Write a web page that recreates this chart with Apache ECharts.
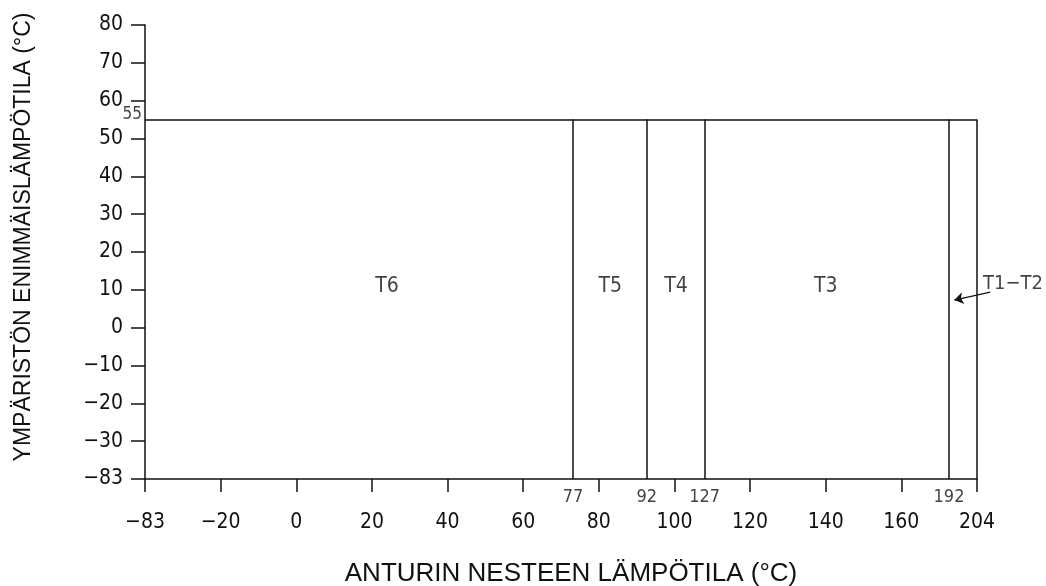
<!DOCTYPE html>
<html>
<head>
<meta charset="utf-8">
<script src="https://cdn.jsdelivr.net/npm/echarts@6/dist/echarts.min.js"></script>
<style>
  html, body { margin: 0; padding: 0; background: #fff; }
  #chart { width: 1046px; height: 586px; }
</style>
</head>
<body>
<div id="chart"></div>
<script>
// axis end labels (the drawing squeezes the ends of both scales)
const xEndLabels = { '-40': '-83', '180': '204' }
const yEndLabels = { '-40': '-83' }

// temperature class zone: boundaries as drawn on the x scale, with their labels
const zoneTop = 55
const zoneBottom = -40
const boundaryPos = [73.2, 92.7, 108, 172.6, 180]
const boundaryLabels = ['77', '92', '127', '192', '']

// class names and where they sit
const classNames = ['T6', 'T5', 'T4', 'T3']
const classX = [24, 83, 100.4, 140]
const classY = 11

// T1-T2 callout
const calloutText = 'T1-T2'
const calloutFrom = [183.5, 9.4]
const calloutTo = [174, 7.3]

const numFont = "'Liberation Sans Narrow', 'DejaVu Sans Condensed', sans-serif"
const ink = '#111'
const minus = s => s.replace('-', '\u2212')

const chart = echarts.init(document.getElementById('chart'))

const zoneLines = boundaryPos.map(x => ({ coords: [[x, zoneBottom], [x, zoneTop]] }))
zoneLines.push({ coords: [[-40, zoneTop], [180, zoneTop]] })

chart.setOption({
  animation: false,
  grid: { left: 145, right: 69, top: 25, bottom: 107, outerBoundsMode: 'none', containLabel: false },
  xAxis: {
    type: 'value',
    min: -40,
    max: 180,
    interval: 20,
    name: 'ANTURIN NESTEEN LÄMPÖTILA (°C)',
    nameLocation: 'middle',
    nameGap: 82,
    nameTextStyle: { fontFamily: 'Liberation Sans', fontSize: 26, color: ink, padding: [0, 0, 0, 20] },
    axisLine: { onZero: false, lineStyle: { color: ink, width: 1.5 } },
    axisTick: { length: 13, lineStyle: { color: ink, width: 1.5 } },
    axisLabel: {
      margin: 33,
      fontFamily: numFont,
      fontSize: 21,
      color: ink,
      formatter: v => minus(xEndLabels[String(v)] || String(v))
    },
    splitLine: { show: false }
  },
  yAxis: {
    type: 'value',
    min: -40,
    max: 80,
    interval: 10,
    name: 'YMPÄRISTÖN ENIMMÄISLÄMPÖTILA (°C)',
    nameLocation: 'middle',
    nameGap: 110,
    nameTextStyle: { fontFamily: 'Liberation Sans', fontSize: 23, color: ink, padding: [0, 0, 0, 30] },
    axisLine: { onZero: false, lineStyle: { color: ink, width: 1.5 } },
    axisTick: { length: 14, lineStyle: { color: ink, width: 1.5 } },
    axisLabel: {
      margin: 22,
      fontFamily: numFont,
      fontSize: 21,
      color: ink,
      formatter: v => minus(yEndLabels[String(v)] || String(v))
    },
    splitLine: { show: false }
  },
  series: [
    {
      type: 'lines',
      coordinateSystem: 'cartesian2d',
      clip: false,
      lineStyle: { color: ink, width: 1.5, opacity: 1 },
      data: zoneLines
    },
    {
      type: 'lines',
      coordinateSystem: 'cartesian2d',
      clip: false,
      symbol: ['none', 'arrow'],
      symbolSize: 9,
      lineStyle: { color: ink, width: 1.2, opacity: 1 },
      data: [{ coords: [calloutFrom, calloutTo] }]
    },
    {
      // small boundary values under the axis
      type: 'scatter',
      symbolSize: 0,
      clip: false,
      label: {
        show: true,
        position: 'bottom',
        distance: 9,
        fontFamily: numFont,
        fontSize: 18,
        color: ink,
        formatter: p => p.data[2]
      },
      data: boundaryPos.map((x, i) => [x, zoneBottom, boundaryLabels[i]])
    },
    {
      // zone top value
      type: 'scatter',
      symbolSize: 0,
      clip: false,
      label: {
        show: true,
        position: [0, 0],
        offset: [-3, 3],
        fontFamily: numFont,
        fontSize: 17,
        color: ink,
        align: 'right',
        verticalAlign: 'bottom',
        formatter: String(zoneTop)
      },
      data: [[-40, zoneTop]]
    },
    {
      type: 'scatter',
      symbolSize: 0,
      clip: false,
      label: {
        show: true,
        position: 'inside',
        fontFamily: numFont,
        fontSize: 21,
        color: ink,
        formatter: p => p.data[2]
      },
      data: classNames.map((n, i) => [classX[i], classY, n])
    },
    {
      type: 'scatter',
      symbolSize: 0,
      clip: false,
      label: {
        show: true,
        position: 'inside',
        fontFamily: numFont,
        fontSize: 20,
        color: ink,
        formatter: minus(calloutText)
      },
      data: [[189.5, 11.5]]
    }
  ]
})
</script>
</body>
</html>
